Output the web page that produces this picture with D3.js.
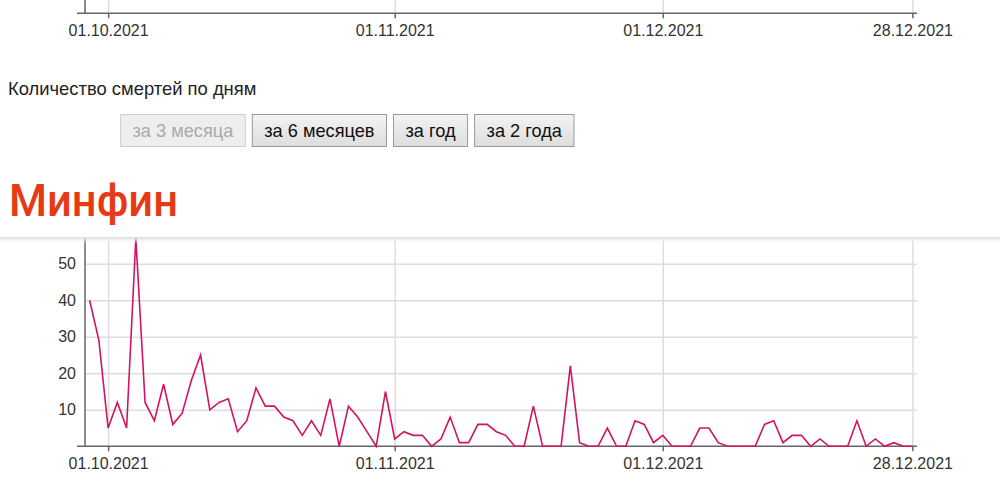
<!DOCTYPE html>
<html><head><meta charset="utf-8">
<script src="https://cdn.jsdelivr.net/npm/d3@7"></script>
<style>
body{margin:0;background:#fff;}
svg{display:block;font-family:Arial,"Liberation Sans",sans-serif;}
</style>
</head><body>
<svg id="c" width="1000" height="492"></svg>
<script>
// ---- data ----
const startDate = "29.09.2021";
const endDate = "28.12.2021";
const missingDates = ["14.11.2021"];
const deaths = [
  40,29,
  5,12,5,57,12,7,17,6,9,18,25,10,12,13,4,7,16,11,11,8,7,3,7,3,13,0,11,8,4,0,15,
  2,4,3,3,0,2,8,1,1,6,6,4,3,0,0,11,0,0,0,22,1,0,0,5,0,0,7,6,1,
  3,0,0,0,5,5,1,0,0,0,0,6,7,1,3,3,0,2,0,0,0,7,0,2,0,1,0,0
];
const tickLabels = ["01.10.2021","01.11.2021","01.12.2021","28.12.2021"];
const yTicks = [10,20,30,40,50];
const yMax = 60;
const title = "Количество смертей по дням";
const buttons = ["за 3 месяца","за 6 месяцев","за год","за 2 года"];
const activeButton = 0;
const logo = "Минфин";

// ---- build categories ----
const parse = d3.timeParse("%d.%m.%Y"), fmt = d3.timeFormat("%d.%m.%Y");
const dates = d3.timeDay.range(parse(startDate), d3.timeDay.offset(parse(endDate),1))
  .map(fmt).filter(d => !missingDates.includes(d));
const rows = dates.map((d,i)=>({date:d, value:deaths[i]}));

const svg = d3.select("#c");
const W = 1000;
const left = 85, right = 917;
const x = d3.scalePoint().domain(dates).range([left, right]).padding(0.5);

const axisColor = "#666", gridColor = "#ddd", textColor = "#333";
const labelFont = "16px";

function drawXAxis(g, yPos, top) {
  g.append("g").attr("transform", `translate(0,${yPos})`)
    .call(d3.axisBottom(x).tickValues(tickLabels).tickSize(-(yPos-top)).tickFormat(""))
    .call(s => s.select(".domain").remove())
    .call(s => s.selectAll("line").attr("stroke", gridColor).attr("stroke-width",1.5));
  const ax = g.append("g").attr("transform", `translate(0,${yPos})`)
    .call(d3.axisBottom(x).tickValues(tickLabels).tickSize(5).tickSizeOuter(0).tickPadding(6));
  ax.select(".domain").remove();
  ax.append("line").attr("x1", left-8).attr("x2", right).attr("stroke", axisColor).attr("stroke-width",1.5);
  ax.selectAll(".tick line").attr("stroke", axisColor).attr("stroke-width",1.5);
  ax.selectAll(".tick text").attr("fill", textColor).style("font-size",labelFont).style("font-family","Arial, 'Liberation Sans', sans-serif");
  g.append("line").attr("x1", left).attr("x2", left).attr("y1", top).attr("y2", yPos)
    .attr("stroke", axisColor).attr("stroke-width",1.5);
}

// ---- top chart (only its bottom visible) ----
drawXAxis(svg.append("g"), 13.3, 0);

// ---- defs ----
const defs = svg.append("defs");
const bg = defs.append("linearGradient").attr("id","btnGrad").attr("x1",0).attr("x2",0).attr("y1",0).attr("y2",1);
bg.append("stop").attr("offset","0%").attr("stop-color","#f3f3f3");
bg.append("stop").attr("offset","100%").attr("stop-color","#dddddd");
const sg = defs.append("linearGradient").attr("id","shGrad").attr("x1",0).attr("x2",0).attr("y1",0).attr("y2",1);
sg.append("stop").attr("offset","0%").attr("stop-color","#dcdcdc");
sg.append("stop").attr("offset","100%").attr("stop-color","#ffffff").attr("stop-opacity",0);
defs.append("clipPath").attr("id","clipB").append("rect").attr("x",0).attr("y",238).attr("width",W).attr("height",300);

// ---- title & buttons ----
svg.append("text").attr("x", 8).attr("y", 95).attr("fill", "#222")
  .style("font-size","18.4px").text(title);

let bx = 120;
buttons.forEach((b,i) => {
  const g = svg.append("g");
  const t = g.append("text").attr("y", 137).style("font-size","18.2px").text(b)
    .attr("fill", i===activeButton ? "#aaa" : "#111");
  const tw = t.node().getComputedTextLength();
  const bw = Math.max(tw + 24, 74);
  g.insert("rect","text").attr("x", bx+0.5).attr("y", 114.5).attr("width", bw).attr("height", 32)
    .attr("fill", i===activeButton ? "#eeeeee" : "url(#btnGrad)")
    .attr("stroke", i===activeButton ? "#cfcfcf" : "#9a9a9a");
  t.attr("x", bx + bw/2 + 0.5).attr("text-anchor","middle");
  bx += bw + 7;
});

// ---- bottom chart ----
const y0 = 446.3;
const y = d3.scaleLinear().domain([0, yMax]).range([y0, y0 - yMax*3.652]);
const gb = svg.append("g").attr("clip-path","url(#clipB)");

gb.append("g").attr("transform", `translate(${left},0)`)
  .call(d3.axisLeft(y).tickValues(yTicks).tickSize(-(right-left)).tickFormat(""))
  .call(s => s.select(".domain").remove())
  .call(s => s.selectAll("line").attr("stroke", gridColor).attr("stroke-width",1.5));

drawXAxis(gb, y0, y(yMax));

const yl = gb.append("g").attr("transform", `translate(${left},0)`)
  .call(d3.axisLeft(y).tickValues(yTicks).tickSize(0).tickPadding(9));
yl.select(".domain").remove();
yl.selectAll("text").attr("fill", textColor).style("font-size",labelFont).style("font-family","Arial, 'Liberation Sans', sans-serif");

gb.append("path").datum(rows)
  .attr("fill","none").attr("stroke","#d3135f").attr("stroke-width",1.6).attr("stroke-linejoin","miter")
  .attr("d", d3.line().x(d => x(d.date)).y(d => y(d.value)));

// ---- header overlay shadow & logo ----
svg.append("rect").attr("x",0).attr("y",237).attr("width",W).attr("height",7).attr("fill","url(#shGrad)");
svg.append("text").attr("x", 9).attr("y", 216).attr("fill","#e63a14")
  .style("font-family","Roboto, Arial, sans-serif").style("font-weight","500").style("font-size","44px")
  .attr("textLength", 169).attr("lengthAdjust","spacingAndGlyphs").text(logo);
</script>
</body></html>
